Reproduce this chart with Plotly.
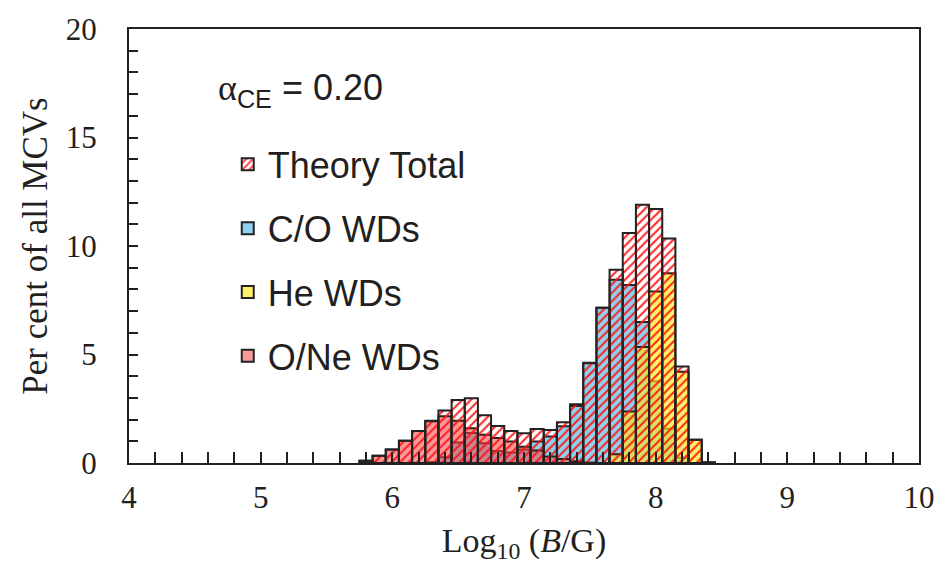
import plotly.graph_objects as go

# Bin centres of log10(B/G), bin width 0.1
log_b = [5.8, 5.9, 6.0, 6.1, 6.2, 6.3, 6.4, 6.5, 6.6, 6.7, 6.8, 6.9, 7.0, 7.1,
         7.2, 7.3, 7.4, 7.5, 7.6, 7.7, 7.8, 7.9, 8.0, 8.1, 8.2, 8.3, 8.4]

# Per cent of all MCVs in each bin
theory_total = [0.10, 0.33, 0.62, 1.02, 1.47, 1.95, 2.42, 2.90, 2.98, 2.20, 1.70, 1.47, 1.37, 1.57,
                1.52, 1.88, 2.71, 4.62, 7.15, 8.90, 10.60, 11.90, 11.70, 10.35, 4.45, 1.07, 0.03]
co_wds = [0, 0, 0, 0, 0, 0.04, 0.26, 0.95, 1.38, 0.91, 0.55, 0.48, 0.62, 0.99,
          1.22, 1.69, 2.63, 4.60, 7.15, 8.45, 8.20, 6.50, 3.77, 1.58, 0.24, 0, 0]
he_wds = [0, 0, 0, 0, 0, 0, 0, 0, 0, 0, 0, 0, 0, 0,
          0, 0, 0, 0, 0, 0.40, 2.37, 5.35, 7.90, 8.75, 4.20, 1.07, 0.03]
one_wds = [0.10, 0.33, 0.62, 1.02, 1.47, 1.92, 2.16, 1.95, 1.60, 1.30, 1.15, 0.99, 0.75, 0.58,
           0.30, 0.19, 0.08, 0.02, 0, 0, 0, 0, 0, 0, 0, 0, 0]

ink = "#231f20"
outline = dict(color="#222222", width=2)
legend_font = dict(family="Liberation Sans, Arial", size=36, color=ink)
serif = "Liberation Serif, Times New Roman"

fig = go.Figure()

fig.add_trace(go.Bar(
    x=log_b, y=co_wds, width=0.1, name="C/O WDs", legendgroup="co", legendrank=2,
    marker=dict(color="rgba(70,178,228,0.6)", line=outline),
))
fig.add_trace(go.Bar(
    x=log_b, y=he_wds, width=0.1, name="He WDs", legendgroup="he", legendrank=3,
    marker=dict(color="rgba(255,235,20,0.65)", line=outline),
))
fig.add_trace(go.Bar(
    x=log_b, y=one_wds, width=0.1, name="O/Ne WDs", legendgroup="one", legendrank=4,
    marker=dict(color="rgba(245,70,70,0.55)", line=outline),
))
# Hatched total on top, transparent background so the populations show through
fig.add_trace(go.Bar(
    x=log_b, y=theory_total, width=0.1, name="Theory Total", legendgroup="tot", legendrank=1,
    marker=dict(
        color="rgba(255,255,255,0)",
        line=outline,
        pattern=dict(shape="/", fgcolor="#ff1010", fgopacity=0.9, size=6, solidity=0.35,
                     fillmode="overlay"),
    ),
))

fig.update_layout(
    width=947, height=567,
    margin=dict(l=129, r=25, t=18, b=104),
    paper_bgcolor="white", plot_bgcolor="white",
    barmode="overlay",
    showlegend=True,
    legend=dict(
        x=0.125, y=0.757, xanchor="left", yanchor="top",
        font=legend_font, bgcolor="rgba(0,0,0,0)",
        tracegroupgap=14, itemwidth=30,
    ),
    annotations=[dict(
        x=0.11, y=0.86, xref="paper", yref="paper", xanchor="left", yanchor="middle",
        text=f"<span style='font-family:{serif}'>α</span><sub>CE</sub> = 0.20",
        showarrow=False, font=legend_font,
    )],
)

axis_font = dict(family=serif, size=31, color=ink)

fig.update_xaxes(
    range=[4, 10], dtick=1, tick0=4,
    ticks="inside", ticklen=11, tickwidth=2, tickcolor=ink,
    minor=dict(dtick=0.2, tick0=4, ticks="inside", ticklen=11, tickwidth=2, tickcolor=ink),
    showline=True, linecolor=ink, linewidth=2, mirror=True,
    showgrid=False, zeroline=False,
    tickfont=axis_font, ticklabelstandoff=6,
    title=dict(text="Log<sub>10</sub> (<i>B</i>/G)", font=dict(family=serif, size=34, color=ink),
               standoff=14),
)
fig.update_yaxes(
    range=[0, 20], dtick=5,
    ticks="inside", ticklen=9, tickwidth=2, tickcolor=ink,
    minor=dict(dtick=1, ticks="inside", ticklen=9, tickwidth=2, tickcolor=ink),
    showline=True, linecolor=ink, linewidth=2, mirror=True,
    showgrid=False, zeroline=False,
    tickfont=axis_font, ticklabelstandoff=24,
    title=dict(text="Per cent of all MCVs", font=dict(family=serif, size=35, color=ink),
               standoff=8),
)

fig.write_html("out.html")
